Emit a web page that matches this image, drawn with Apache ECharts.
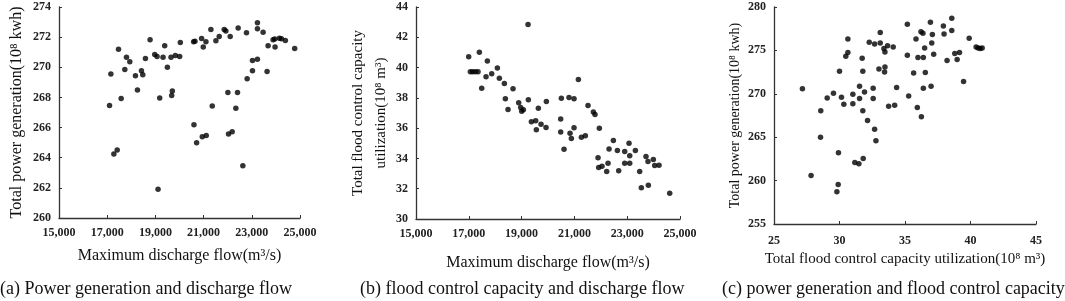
<!DOCTYPE html>
<html>
<head>
<meta charset="utf-8">
<script src="https://cdn.jsdelivr.net/npm/echarts@6/dist/echarts.min.js"></script>
<style>
  html, body { margin: 0; padding: 0; background: #fff; }
  #chart { width: 1065px; height: 301px; }
</style>
</head>
<body>
<div id="chart"></div>
<script>
// (a) discharge flow vs power generation
const flowA = [17097, 17152, 17276, 17414, 17469, 17579, 17731, 17800, 17938, 18172,
  18255, 18421, 18476, 18586, 18779, 18972, 19069, 19179, 19110, 19386,
  19317, 19497, 19648, 19703, 19676, 19828, 20007, 20034, 20586, 20641,
  20917, 20986, 21097, 21303, 21510, 21648, 21855, 21924, 22103, 22434,
  22779, 23234, 23234, 23469, 23676, 23883, 23952, 23966, 24145, 24228,
  24393, 24779, 20600, 20710, 20945, 21110, 21359, 22007, 22407, 22338,
  22034, 22186, 22628, 22807, 23028, 23028, 23234, 23634];
const powerA = [267.47, 269.55, 264.24, 264.51, 271.2, 267.93, 269.86, 270.67, 270.36, 269.44,
  268.49, 269.77, 269.5, 270.59, 271.82, 270.85, 270.72, 267.96, 261.9, 271.43,
  270.67, 270.01, 270.67, 268.42, 268.13, 270.78, 270.72, 271.65, 271.69, 271.73,
  271.91, 271.34, 271.69, 272.51, 271.76, 272.04, 272.51, 272.4, 272.04, 272.6,
  272.29, 272.95, 272.55, 272.33, 271.43, 271.82, 271.87, 271.34, 271.93, 271.89,
  271.78, 271.25, 266.19, 264.99, 265.39, 265.48, 267.43, 268.33, 268.33, 267.29,
  265.57, 265.72, 263.47, 269.24, 269.77, 270.45, 270.54, 269.72];

// (b) discharge flow vs flood control capacity utilization
const flowB = [16996, 17059, 17148, 17249, 17350, 17400, 17489, 17653, 17703, 17867,
  18082, 18158, 18347, 18385, 18486, 18675, 18890, 18966, 19004, 19067,
  19244, 19256, 19370, 19534, 19559, 19635, 19736, 19925, 19938, 20481,
  20481, 20506, 20607, 20796, 20834, 20885, 20986, 20986, 21150, 21264,
  21415, 21516, 21718, 21781, 21945, 21895, 21920, 22046, 22223, 22274,
  22312, 22476, 22628, 22678, 22905, 22905, 23069, 23095, 23095, 23310,
  23473, 23536, 23712, 23788, 23801, 23990, 24041, 24205, 24610];
const floodB = [40.72, 39.72, 39.72, 39.72, 39.72, 41.02, 38.64, 39.39, 40.43, 39.59,
  39.97, 39.3, 38.95, 37.94, 37.23, 38.6, 37.67, 37.36, 37.12, 37.21,
  42.85, 37.87, 36.42, 36.48, 35.89, 37.32, 36.26, 36.04, 37.76, 36.61,
  35.75, 37.98, 34.61, 38.03, 35.67, 35.31, 37.94, 36.02, 39.22, 35.4,
  35.49, 37.5, 37.06, 36.9, 36.0, 34.04, 33.4, 33.48, 33.13, 33.68,
  34.63, 35.18, 34.52, 33.18, 34.45, 33.68, 35.01, 34.17, 33.68, 34.52,
  33.13, 32.07, 34.12, 33.79, 32.23, 33.93, 33.53, 33.55, 31.7];

// (c) flood control capacity utilization vs power generation
const floodC = [27.17, 27.83, 28.57, 28.55, 29.06, 29.54, 29.92, 29.9, 29.8, 30.0,
  30.15, 30.33, 30.48, 30.64, 30.64, 31.02, 31.02, 31.17, 31.48, 31.53,
  31.53, 31.73, 31.78, 31.78, 31.81, 31.91, 32.14, 32.27, 32.57, 32.57,
  32.68, 32.68, 32.78, 33.01, 33.11, 33.11, 33.39, 33.47, 33.47, 33.44,
  33.67, 33.75, 34.1, 34.21, 34.36, 35.18, 35.18, 35.28, 35.66, 35.84,
  35.94, 35.99, 36.25, 36.22, 36.37, 36.4, 36.4, 36.5, 36.55, 36.94,
  36.99, 37.04, 37.09, 37.19, 37.93, 37.98, 38.21, 38.57, 38.57, 38.8,
  38.98, 39.16, 39.47, 39.9, 40.43, 40.58, 40.74, 40.89];
const powerC = [270.57, 260.6, 268.04, 265.0, 269.53, 270.07, 263.21, 259.56, 258.72, 272.6,
  269.61, 268.8, 274.33, 274.75, 276.32, 269.95, 268.84, 262.09, 261.94, 270.87,
  269.46, 274.1, 272.6, 268.04, 262.55, 270.22, 266.93, 275.94, 270.64, 269.46,
  275.74, 265.93, 264.59, 272.87, 277.05, 275.86, 275.21, 274.82, 273.1, 272.52,
  275.55, 268.57, 275.4, 268.69, 270.72, 278.0, 274.44, 269.76, 272.41, 276.32,
  268.42, 274.17, 267.35, 277.16, 276.97, 274.17, 270.64, 275.28, 272.45, 278.24,
  270.87, 275.86, 276.82, 274.56, 277.81, 276.89, 273.83, 278.7, 277.28, 274.63,
  273.94, 274.75, 271.41, 276.4, 275.4, 275.28, 275.21, 275.28];

const captions = ['(a) Power generation and discharge flow',
  '(b) flood control capacity and discharge flow',
  '(c) power generation and flood control capacity'];

const pair = (xs, ys) => xs.map((x, i) => [x, ys[i]]);
const serif = '"Liberation Serif", "Times New Roman", serif';

const tickLabel = {
  color: '#222', fontFamily: serif, fontWeight: 'bold', fontSize: 12, margin: 7
};
const axisLine = { show: true, lineStyle: { color: '#333', width: 1.3 } };
const axisTick = { show: true, inside: true, length: 3, lineStyle: { color: '#333' } };
const nameStyle = { color: '#111', fontFamily: serif, fontSize: 15 };
const fmtComma = v => v.toLocaleString('en-US');

function xAx(gi, min, max, interval, name, gap, fmt, size, margin) {
  return {
    gridIndex: gi, type: 'value', min: min, max: max, interval: interval,
    name: name, nameLocation: 'middle', nameGap: gap,
    nameTextStyle: Object.assign({}, nameStyle, { fontSize: size }),
    axisLine: axisLine, axisTick: axisTick, splitLine: { show: false },
    axisLabel: Object.assign({}, tickLabel, { formatter: fmt, margin: margin })
  };
}
function yAx(gi, min, max, interval, name, gap, size, extra) {
  return {
    gridIndex: gi, type: 'value', min: min, max: max, interval: interval,
    name: name, nameLocation: 'middle', nameGap: gap,
    nameTextStyle: Object.assign({}, nameStyle, { fontSize: size }, extra || {}),
    axisLine: axisLine, axisTick: axisTick, splitLine: { show: false },
    axisLabel: Object.assign({}, tickLabel, { margin: 8 })
  };
}

var myChart = echarts.init(document.getElementById('chart'));
var option = {
  backgroundColor: '#fff',
  animation: false,
  grid: [
    { left: 59, top: 7, width: 241, height: 211 },
    { left: 416, top: 7, width: 264, height: 212 },
    { left: 774, top: 7, width: 262, height: 217 }
  ],
  xAxis: [
    xAx(0, 15000, 25000, 2000, 'Maximum discharge flow(m³/s)', 30, fmtComma, 16, 9),
    xAx(1, 15000, 25000, 2000, 'Maximum discharge flow(m³/s)', 36, fmtComma, 16, 9),
    xAx(2, 25, 45, 5, 'Total flood control capacity utilization(10⁸ m³)', 27, null, 15, 11)
  ],
  yAxis: [
    yAx(0, 260, 274, 2, 'Total power generation(10⁸ kwh)', 34, 16),
    yAx(1, 30, 44, 2, 'Total flood control capacity\nutilization(10⁸ m³)', 21, 15, { lineHeight: 23 }),
    yAx(2, 255, 280, 5, 'Total power generation(10⁸ kwh)', 32, 14)
  ],
  series: [
    { type: 'scatter', xAxisIndex: 0, yAxisIndex: 0, data: pair(flowA, powerA), symbolSize: 5.5, itemStyle: { color: '#000' } },
    { type: 'scatter', xAxisIndex: 1, yAxisIndex: 1, data: pair(flowB, floodB), symbolSize: 5.5, itemStyle: { color: '#000' } },
    { type: 'scatter', xAxisIndex: 2, yAxisIndex: 2, data: pair(floodC, powerC), symbolSize: 5.5, itemStyle: { color: '#000' } }
  ],
  graphic: [
    { type: 'text', left: 0, top: 280, style: { text: captions[0], font: '18px ' + serif, fill: '#111' } },
    { type: 'text', left: 360, top: 280, style: { text: captions[1], font: '18px ' + serif, fill: '#111' } },
    { type: 'text', left: 722, top: 280, style: { text: captions[2], font: '18px ' + serif, fill: '#111' } }
  ]
};
myChart.setOption(option);
</script>
</body>
</html>
